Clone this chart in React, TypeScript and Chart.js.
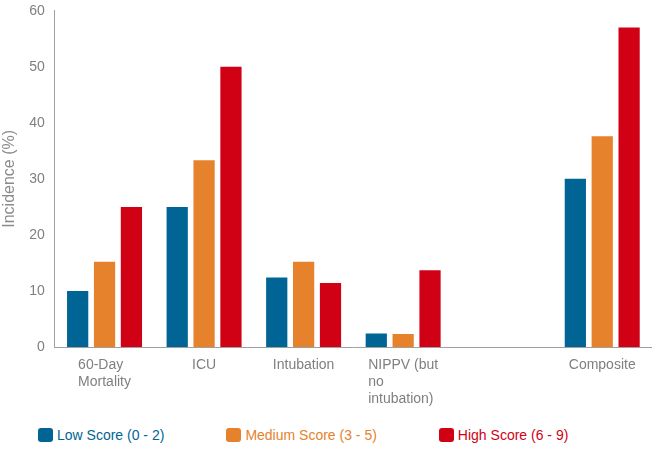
import React, { useEffect, useRef } from "react";
import { Chart, registerables } from "chart.js";

Chart.register(...registerables);

const FONT = '"Liberation Sans", Arial, Helvetica, sans-serif';

const categories: (string | string[])[] = [
  ["60-Day", "Mortality"],
  "ICU",
  "Intubation",
  ["NIPPV (but", "no", "intubation)"],
  "",
  "Composite",
];
const seriesNames = ["Low Score (0 - 2)", "Medium Score (3 - 5)", "High Score (6 - 9)"];
const lowScore: (number | null)[] = [10, 25, 12.4, 2.4, null, 30];
const mediumScore: (number | null)[] = [15.2, 33.3, 15.2, 2.3, null, 37.6];
const highScore: (number | null)[] = [25, 50, 11.4, 13.7, null, 57];
const seriesColors = ["#006494", "#E6822B", "#D00015"];
const yMin = 0;
const yMax = 60;
const yStep = 10;
const yTitle = "Incidence (%)";

const leftAlignedXLabels = {
  id: "leftAlignedXLabels",
  afterDraw(chart: any) {
    const xs = chart.scales.x;
    const ctx = chart.ctx as CanvasRenderingContext2D;
    ctx.save();
    ctx.font = `14px ${FONT}`;
    ctx.fillStyle = "#7f7f7f";
    ctx.textAlign = "left";
    ctx.textBaseline = "top";
    categories.forEach((lab, i) => {
      const lines = Array.isArray(lab) ? lab : [lab];
      const w = Math.max(...lines.map((l) => ctx.measureText(l).width));
      const cx = xs.getPixelForValue(i);
      lines.forEach((l, j) => ctx.fillText(l, cx - w / 2, xs.top + 11 + j * 17));
    });
    ctx.restore();
  },
};

export default function App() {
  const ref = useRef<HTMLCanvasElement | null>(null);

  useEffect(() => {
    document.body.style.margin = "0";
    if (!ref.current) return;
    const data = [lowScore, mediumScore, highScore];
    const chart = new Chart(ref.current, {
      type: "bar",
      data: {
        labels: categories as any,
        datasets: seriesNames.map((name, i) => ({
          label: name,
          data: data[i],
          backgroundColor: seriesColors[i],
          borderWidth: 0,
          categoryPercentage: 0.81,
          barPercentage: 0.79,
        })),
      },
      options: {
        animation: false,
        responsive: true,
        maintainAspectRatio: false,
        layout: { padding: { top: 0, left: 0, right: 0, bottom: 0 } },
        plugins: {
          legend: { display: false },
          tooltip: { enabled: false },
        },
        scales: {
          x: {
            grid: { display: false, drawTicks: false },
            border: { display: true, color: "#a0a0a0", width: 1 },
            ticks: { display: false },
            afterFit: (s: any) => {
              s.height = 63;
            },
          },
          y: {
            min: yMin,
            max: yMax,
            ticks: {
              stepSize: yStep,
              padding: 10,
              color: "#7f7f7f",
              font: { size: 14, family: FONT },
            },
            grid: { display: false, drawTicks: false },
            border: { display: true, color: "#a0a0a0", width: 1 },
            title: {
              display: true,
              text: yTitle,
              color: "#8a8a8a",
              font: { size: 16, family: FONT },
              padding: { top: 0, bottom: 0 },
            },
            afterFit: (s: any) => {
              s.paddingTop = 10.7;
              s.paddingBottom = 8;
            },
          },
        },
      },
      plugins: [leftAlignedXLabels],
    });
    return () => chart.destroy();
  }, []);

  return (
    <div style={{ position: "relative", width: 652, height: 450, fontFamily: FONT }}>
      <div style={{ position: "absolute", left: 0, top: 0, width: 652, height: 410 }}>
        <canvas ref={ref} />
      </div>
      <div
        style={{
          position: "absolute",
          top: 427,
          left: 38,
          display: "flex",
          alignItems: "center",
          gap: 62,
          fontSize: 14,
          lineHeight: "16px",
          whiteSpace: "nowrap",
        }}
      >
        {seriesNames.map((name, i) => (
          <div key={name} style={{ display: "flex", alignItems: "center" }}>
            <span
              style={{
                display: "inline-block",
                width: 15,
                height: 14,
                borderRadius: 3,
                background: seriesColors[i],
                marginRight: 4,
              }}
            />
            <span style={{ color: seriesColors[i] }}>{name}</span>
          </div>
        ))}
      </div>
    </div>
  );
}
